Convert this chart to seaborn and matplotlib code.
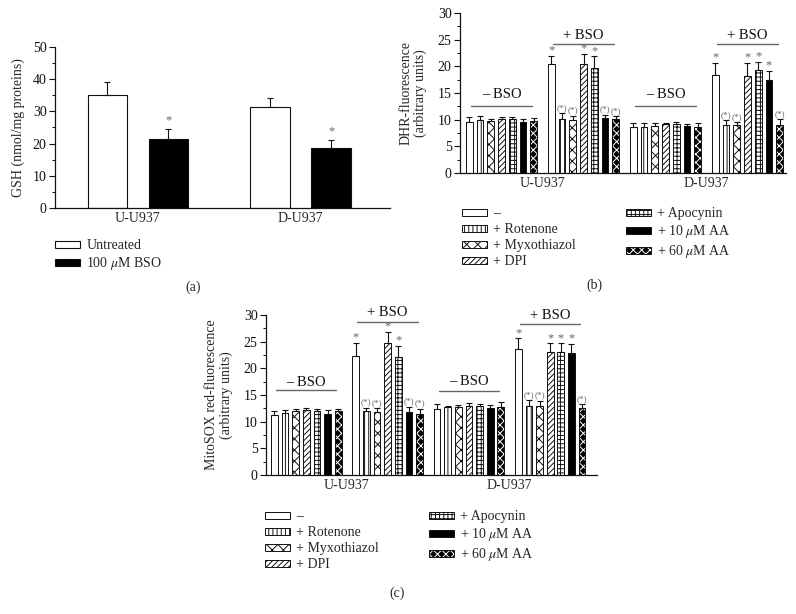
import numpy as np
import pandas as pd
import matplotlib
matplotlib.use("Agg")
import matplotlib.pyplot as plt
import seaborn as sns
from matplotlib.patches import Patch, Rectangle
from matplotlib.legend_handler import HandlerTuple
from matplotlib.ticker import MultipleLocator

# ---------------- data ----------------
cells = ["U-U937", "D-U937"]
gsh_treatments = ["Untreated", "100 $\\mu$M BSO"]
gsh_untreated = [35.2, 31.4]
gsh_untreated_err = [3.9, 2.9]
gsh_bso = [21.4, 18.6]
gsh_bso_err = [3.1, 2.6]

groups = ["U-BSO", "U+BSO", "D-BSO", "D+BSO"]
group_labels = ["– BSO", "+ BSO", "– BSO", "+ BSO"]
treatments = ["–", "+ Rotenone", "+ Myxothiazol", "+ DPI",
              "+ Apocynin", "+ 10 $\\mu$M AA", "+ 60 $\\mu$M AA"]

dhr_u_minus = [9.6, 9.9, 9.7, 10.1, 10.2, 9.6, 9.8]
dhr_u_minus_err = [0.9, 0.8, 0.5, 0.4, 0.3, 0.5, 0.6]
dhr_u_plus = [20.4, 10.2, 9.9, 20.4, 19.7, 10.4, 10.2]
dhr_u_plus_err = [1.6, 1.0, 0.8, 2.0, 2.2, 0.5, 0.4]
dhr_d_minus = [8.6, 8.7, 8.9, 9.2, 9.1, 8.8, 8.7]
dhr_d_minus_err = [0.7, 0.6, 0.5, 0.2, 0.4, 0.3, 0.6]
dhr_d_plus = [18.4, 9.0, 9.0, 18.2, 19.4, 17.4, 9.0]
dhr_d_plus_err = [2.2, 0.9, 0.5, 2.4, 1.5, 1.8, 1.1]

mito_u_minus = [11.3, 11.6, 12.0, 12.2, 12.0, 11.4, 12.0]
mito_u_minus_err = [0.7, 0.5, 0.4, 0.4, 0.4, 0.7, 0.4]
mito_u_plus = [22.4, 12.0, 11.8, 24.7, 22.1, 11.8, 11.4]
mito_u_plus_err = [2.4, 0.6, 0.7, 2.2, 2.1, 1.0, 1.0]
mito_d_minus = [12.4, 12.7, 12.7, 12.9, 12.9, 12.5, 12.8]
mito_d_minus_err = [0.85, 0.3, 0.5, 0.6, 0.5, 0.7, 0.9]
mito_d_plus = [23.7, 13.0, 13.0, 23.1, 23.1, 22.9, 12.5]
mito_d_plus_err = [1.9, 1.0, 0.9, 1.6, 1.6, 1.7, 0.8]

sig_none = [""] * 7
sig_u_plus = ["*", "(*)", "(*)", "*", "*", "(*)", "(*)"]
sig_d_plus = ["*", "(*)", "(*)", "*", "*", "*", "(*)"]

# ---------------- style ----------------
sns.set_style("ticks")
plt.rcParams["font.family"] = ["Liberation Serif", "DejaVu Serif"]
plt.rcParams["mathtext.fontset"] = "stix"
plt.rcParams["hatch.linewidth"] = 0.7
FS = 10
EDGE = "#111111"
GRAY = "#666666"

fig = plt.figure(figsize=(7.96, 6.14), dpi=100)
W, H = 796, 614


def add_axes_px(left, top, right, bottom):
    return fig.add_axes([left / W, 1 - bottom / H, (right - left) / W, (bottom - top) / H])


def style_axes(ax, ymax, major, minor):
    sns.despine(ax=ax)
    ax.set_ylim(0, ymax)
    ax.yaxis.set_major_locator(MultipleLocator(major))
    ax.yaxis.set_minor_locator(MultipleLocator(minor))
    for s in ("left", "bottom"):
        ax.spines[s].set_linewidth(0.9)
        ax.spines[s].set_color("#111111")
    ax.tick_params(axis="y", which="major", length=4, width=0.8, labelsize=FS, pad=2, colors="#111111")
    ax.tick_params(axis="y", which="minor", length=2, width=0.7, colors="#111111")
    ax.tick_params(axis="x", length=0, labelsize=FS, pad=3)
    ax.set_xlabel("")


# (facecolor, hatch, hatch colour)
hatch_styles = [
    ("white", None, EDGE),
    ("white", "||||", EDGE),
    ("white", "xxx", EDGE),
    ("white", "//////", EDGE),
    ("white", "++++", EDGE),
    ("black", None, EDGE),
    ("black", "xxxx", "white"),
]


def draw_errors(ax, bars, errs, sigs, offset):
    xs = np.array([b.get_x() + b.get_width() / 2 for b in bars])
    ys = np.array([b.get_height() for b in bars])
    e = np.array(errs)
    ax.errorbar(xs, ys, yerr=[np.zeros_like(e), e], fmt="none", ecolor=EDGE,
                elinewidth=0.8, capsize=2.2, capthick=0.8, zorder=5)
    for x, y, er, s in zip(xs, ys, e, sigs):
        if s:
            ax.text(x, y + er + offset, s, ha="center", va="center",
                    fontsize=9 if s == "*" else 6.6, color=GRAY, zorder=6)


def apply_style(ax, bar, style):
    fc, h, hc = style
    if hc == "white":
        # white hatch on black face, with a dark outline drawn on top
        bar.set_facecolor(fc)
        bar.set_edgecolor("white")
        bar.set_hatch(h)
        bar.set_linewidth(0)
        ax.add_patch(Rectangle((bar.get_x(), 0), bar.get_width(), bar.get_height(),
                               facecolor="none", edgecolor=EDGE, linewidth=0.7,
                               zorder=bar.get_zorder() + 0.1))
    else:
        bar.set_facecolor(fc)
        bar.set_edgecolor(EDGE)
        if h:
            bar.set_hatch(h)


def panel_multi(ax, blocks, errs, sigs, xlim, lines):
    rows = []
    for g, vals in zip(groups, blocks):
        for t, v in zip(treatments, vals):
            rows.append((g, t, v))
    df = pd.DataFrame(rows, columns=["group", "treatment", "value"])
    pal = {t: s[0] for t, s in zip(treatments, hatch_styles)}
    sns.barplot(data=df, x="group", y="value", hue="treatment", order=groups,
                hue_order=treatments, width=0.917, gap=0.37, errorbar=None,
                palette=pal, saturation=1, edgecolor=EDGE, linewidth=0.7,
                legend=False, ax=ax)
    conts = list(ax.containers)
    for i, cont in enumerate(conts):
        for b in cont:
            apply_style(ax, b, hatch_styles[i])
    for gi, g in enumerate(groups):
        bars = [conts[i][gi] for i in range(len(treatments))]
        draw_errors(ax, bars, errs[gi], sigs[gi], 1.0)
    style_axes(ax, 30, 5, 2.5)
    ax.set_xlim(*xlim)
    ax.set_xticks([0.5, 2.5])
    ax.set_xticklabels(cells)
    for gi, (ly, ty) in enumerate(lines):
        ax.plot([gi - 0.37, gi + 0.37], [ly, ly], color=GRAY, lw=1.0, clip_on=False)
        ax.text(gi, ty, group_labels[gi], ha="center", va="center", fontsize=FS + 0.5,
                color="#111111", clip_on=False)


def legend_handles():
    handles = []
    for (fc, h, hc) in hatch_styles:
        if hc == "white":
            handles.append((Patch(facecolor=fc, edgecolor="white", hatch=h, linewidth=0),
                            Patch(facecolor="none", edgecolor=EDGE, linewidth=0.7)))
        else:
            handles.append(Patch(facecolor=fc, edgecolor=EDGE, hatch=h, linewidth=0.7))
    return handles


def multi_legend(anchor_px, colspace):
    fig.legend(legend_handles(), treatments, loc="upper left",
               bbox_to_anchor=(anchor_px[0] / W, 1 - anchor_px[1] / H),
               ncol=2, frameon=False, fontsize=FS, handlelength=1.8,
               handleheight=0.4, handletextpad=0.45, labelspacing=0.22,
               columnspacing=colspace, borderpad=0, borderaxespad=0,
               handler_map={tuple: HandlerTuple(ndivide=1, pad=0)})


# ---------------- panel (a) ----------------
axa = add_axes_px(55, 47, 390, 208)
df_a = pd.DataFrame({
    "cell": cells * 2,
    "treatment": [gsh_treatments[0]] * 2 + [gsh_treatments[1]] * 2,
    "value": gsh_untreated + gsh_bso,
})
sns.barplot(data=df_a, x="cell", y="value", hue="treatment", order=cells,
            hue_order=gsh_treatments, width=0.75, gap=0.35, errorbar=None,
            palette={gsh_treatments[0]: "white", gsh_treatments[1]: "black"},
            saturation=1, edgecolor=EDGE, linewidth=0.8, legend=False, ax=axa)
draw_errors(axa, list(axa.containers[0]), gsh_untreated_err, ["", ""], 2.6)
draw_errors(axa, list(axa.containers[1]), gsh_bso_err, ["*", "*"], 2.6)
style_axes(axa, 50, 10, 5)
axa.set_xlim(-0.51, 1.55)
axa.set_ylabel("GSH (nmol/mg proteins)", fontsize=FS)
axa.yaxis.set_label_coords(-0.091, 0.5)
fig.legend([Patch(facecolor="white", edgecolor=EDGE, linewidth=0.8),
            Patch(facecolor="black", edgecolor=EDGE, linewidth=0.8)],
           gsh_treatments, loc="upper left", bbox_to_anchor=(55 / W, 1 - 239 / H),
           frameon=False, fontsize=FS, handlelength=1.8, handleheight=0.4,
           handletextpad=0.45, labelspacing=0.22, borderpad=0, borderaxespad=0)
fig.text(193 / W, 1 - 287 / H, "(a)", ha="center", va="center", fontsize=FS)

# ---------------- panel (b) ----------------
axb = add_axes_px(460, 13, 786, 173)
panel_multi(axb,
            [dhr_u_minus, dhr_u_plus, dhr_d_minus, dhr_d_plus],
            [dhr_u_minus_err, dhr_u_plus_err, dhr_d_minus_err, dhr_d_plus_err],
            [sig_none, sig_u_plus, sig_none, sig_d_plus],
            (-0.507, 3.47),
            [(12.6, 14.7), (24.2, 25.8), (12.6, 14.7), (24.2, 25.8)])
axb.set_ylabel("DHR-fluorescence\n(arbitrary units)", fontsize=FS, linespacing=1.1)
axb.yaxis.set_label_coords(-0.101, 0.5)
multi_legend((462, 207), 3.6)
fig.text(594 / W, 1 - 285 / H, "(b)", ha="center", va="center", fontsize=FS)

# ---------------- panel (c) ----------------
axc = add_axes_px(266, 315, 597, 475)
panel_multi(axc,
            [mito_u_minus, mito_u_plus, mito_d_minus, mito_d_plus],
            [mito_u_minus_err, mito_u_plus_err, mito_d_minus_err, mito_d_plus_err],
            [sig_none, sig_u_plus, sig_none, sig_d_plus],
            (-0.495, 3.576),
            [(15.9, 17.4), (28.7, 30.5), (15.8, 17.5), (28.3, 29.9)])
axc.set_ylabel("MitoSOX red-fluorescence\n(arbitrary units)", fontsize=FS, linespacing=1.1)
axc.yaxis.set_label_coords(-0.101, 0.5)
multi_legend((265, 510), 3.6)
fig.text(397 / W, 1 - 593 / H, "(c)", ha="center", va="center", fontsize=FS)

fig.savefig("out.png", dpi=100)
